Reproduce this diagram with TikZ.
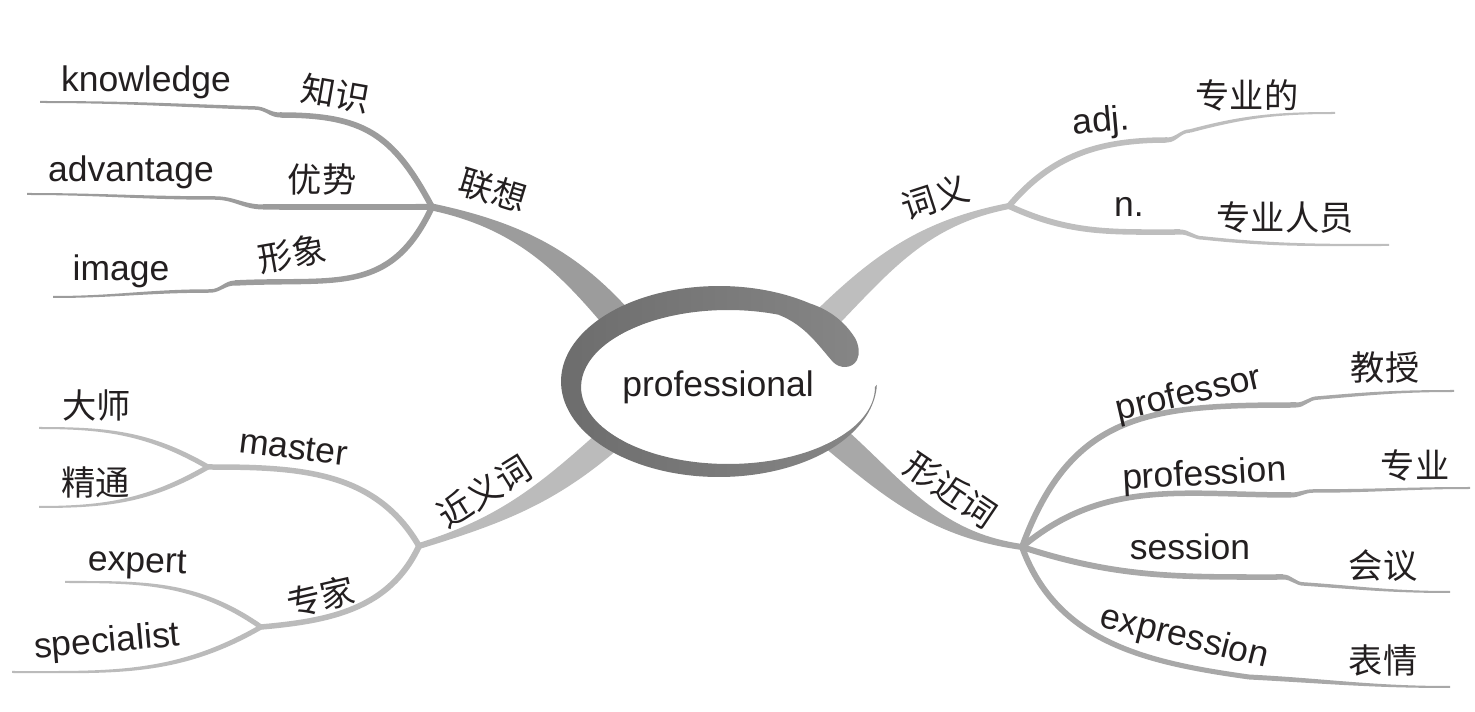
\documentclass[tikz,border=0pt]{standalone}
\usepackage{fontspec}
\setmainfont{Liberation Sans}
\newfontfamily\cjk{Noto Sans CJK SC}
\usetikzlibrary{calc}
\definecolor{ringL}{HTML}{6B6B6B}
\definecolor{ringR}{HTML}{878787}
\definecolor{cA}{HTML}{9C9C9C}
\definecolor{cB}{HTML}{BEBEBE}
\definecolor{cC}{HTML}{BBBBBB}
\definecolor{cD}{HTML}{A8A8A8}
\definecolor{txt}{HTML}{231F20}
% tapered branch: [opts] from, to, width0, width1, out, in, colour
\newcommand\br[8][]{%
  \fill[#8] ($(#2)+(#6+90:#4/2)$) to[out=#6,in=#7,#1] ($(#3)+(#7-90:#5/2)$)
    -- ($(#3)+(#7+90:#5/2)$) to[out=#7,in=#6,#1] ($(#2)+(#6-90:#4/2)$) -- cycle;}
\begin{document}
\begin{tikzpicture}[x=0.02cm,y=0.02cm,
  en/.style={font=\fontsize{20.2}{24}\selectfont, inner sep=0pt, text=txt},
  zh/.style={font=\cjk\fontsize{19.5}{22}\selectfont, inner sep=0pt, text=txt}]
\useasboundingbox (0,0) rectangle (1475,-712);
% ---------- coordinates ----------
\coordinate (F1) at (432,-207); \coordinate (R1) at (635,-340);
\coordinate (K1) at (280,-115); \coordinate (K2) at (255,-108); \coordinate (K3) at (40,-102);
\coordinate (A1) at (263,-207); \coordinate (A2) at (215,-198); \coordinate (A3) at (27,-194);
\coordinate (I1) at (235,-283); \coordinate (I2) at (210,-291); \coordinate (I3) at (53,-297);
\coordinate (F2) at (1009,-206); \coordinate (R2) at (812,-333);
\coordinate (Ad1) at (1167,-140); \coordinate (Ad2) at (1190,-131); \coordinate (Ad3) at (1335,-113);
\coordinate (N1) at (1180,-232); \coordinate (N2) at (1203,-238); \coordinate (N3) at (1389,-245);
\coordinate (F3) at (419,-546); \coordinate (R3) at (620,-430);
\coordinate (F4) at (208,-467); \coordinate (D1) at (39,-428); \coordinate (J1) at (39,-507);
\coordinate (F5) at (261,-627); \coordinate (E1) at (65,-582); \coordinate (S1) at (12,-672);
\coordinate (F6) at (1022,-547); \coordinate (R6) at (822,-427);
\coordinate (Pr1) at (1296,-405); \coordinate (Pr2) at (1318,-398); \coordinate (Pr3) at (1454,-391);
\coordinate (Pf1) at (1291,-495); \coordinate (Pf2) at (1313,-491); \coordinate (Pf3) at (1470,-488);
\coordinate (Se1) at (1283,-577); \coordinate (Se2) at (1304,-584); \coordinate (Se3) at (1450,-592);
\coordinate (Ex1) at (1249,-677); \coordinate (Ex2) at (1450,-687);
% ---------- branches ----------
% 联想
\br{F1}{R1}{7}{30}{-12}{129}{cA}
\br[looseness=1.2]{F1}{K1}{6}{5.5}{118}{0}{cA}
\br{K1}{K2}{5}{3.5}{180}{0}{cA}
\br{K2}{K3}{3.5}{2}{178}{0}{cA}
\br{F1}{A1}{6}{5.5}{180}{0}{cA}
\br{A1}{A2}{5}{3.5}{180}{0}{cA}
\br{A2}{A3}{3.5}{2}{180}{0}{cA}
\br[looseness=1.2]{F1}{I1}{6}{5.5}{-115}{3}{cA}
\br{I1}{I2}{5}{3.5}{180}{0}{cA}
\br{I2}{I3}{3.5}{2}{180}{0}{cA}
% 词义
\br{R2}{F2}{26}{6}{45}{-169}{cB}
\br{F2}{Ad1}{6}{5.5}{50}{180}{cB}
\br{Ad1}{Ad2}{5}{3.5}{0}{180}{cB}
\br{Ad2}{Ad3}{3.5}{2}{15}{180}{cB}
\br{F2}{N1}{6}{5.5}{-25}{180}{cB}
\br{N1}{N2}{5}{3.5}{0}{180}{cB}
\br{N2}{N3}{3.5}{2}{-6}{180}{cB}
% 近义词
\br{R3}{F3}{26}{6}{222}{17}{cC}
\br{F3}{F4}{6}{5.5}{120}{0}{cC}
\br{F4}{D1}{5}{2}{150}{0}{cC}
\br{F4}{J1}{5}{2}{-150}{0}{cC}
\br{F3}{F5}{6}{5.5}{-115}{5}{cC}
\br{F5}{E1}{5}{2}{145}{0}{cC}
\br{F5}{S1}{5}{2}{-150}{0}{cC}
% 形近词
\br{R6}{F6}{28}{6}{-40}{172}{cD}
\br[looseness=1.2]{F6}{Pr1}{6}{5.5}{70}{180}{cD}
\br{Pr1}{Pr2}{5}{3.5}{0}{180}{cD}
\br{Pr2}{Pr3}{3.5}{2}{5}{180}{cD}
\br{F6}{Pf1}{6}{5.5}{40}{180}{cD}
\br{Pf1}{Pf2}{5}{3.5}{0}{180}{cD}
\br{Pf2}{Pf3}{3.5}{2}{0}{180}{cD}
\br{F6}{Se1}{6}{5.5}{-18}{180}{cD}
\br{Se1}{Se2}{5}{3.5}{0}{180}{cD}
\br{Se2}{Se3}{3.5}{2}{-4}{180}{cD}
\br{F6}{Ex1}{6}{5}{-70}{172}{cD}
\br{Ex1}{Ex2}{5}{2}{-3}{180}{cD}
% ---------- central ring ----------
\fill[white] (728,-387) ellipse[x radius=2.94cm, y radius=1.54cm];
\shade[left color=ringL, right color=ringR]
  (809.6,-303.3) arc[start angle=55, end angle=358, x radius=3.16cm, y radius=1.91cm]
  -- (875,-387) arc[start angle=360, end angle=70, x radius=2.94cm, y radius=1.54cm]
  .. controls (805,-325) and (818,-345) .. (833,-362)
  .. controls (840,-369) and (852,-369) .. (857,-360)
  .. controls (860,-354) and (859,-345) .. (855,-338)
  .. controls (845,-322) and (830,-310) .. cycle;
\node[en, anchor=base] (tPro) at (718,-397) {professional};
% ---------- labels ----------
\node[zh, rotate=-17] (tLX) at (493,-190) {联想};
\node[zh, rotate=18] (tCY) at (935,-197) {词义};
\node[zh, rotate=32] (tJY) at (484,-491) {近义词};
\node[zh, rotate=-34] (tXJ) at (951,-490) {形近词};
\node[en, anchor=base] (tKn) at (146,-92) {knowledge};
\node[zh, rotate=-10] (tZS) at (336,-94) {知识};
\node[en, anchor=base] (tAd) at (131,-182) {advantage};
\node[zh] (tYS) at (322,-180) {优势};
\node[en, anchor=base] (tIm) at (121,-281) {image};
\node[zh, rotate=10] (tXX) at (292,-254) {形象};
\node[en, anchor=base, rotate=5] (tAdj) at (1102,-132) {adj.};
\node[zh] (tZYD) at (1247,-95) {专业的};
\node[en, anchor=base] (tN) at (1129,-217) {n.};
\node[zh] (tZYRY) at (1285,-218) {专业人员};
\node[en, anchor=base, rotate=-7] (tMa) at (292,-459) {master};
\node[zh] (tDS) at (97,-405) {大师};
\node[zh] (tJT) at (96,-482) {精通};
\node[zh, rotate=13] (tZJ) at (321,-597) {专家};
\node[en, anchor=base, rotate=-2] (tEx) at (137,-572) {expert};
\node[en, anchor=base, rotate=5] (tSp) at (108,-652) {specialist};
\node[en, anchor=base, rotate=13] (tPr) at (1191,-404) {professor};
\node[zh] (tJS) at (1385,-368) {教授};
\node[en, anchor=base, rotate=3] (tPf) at (1205,-485) {profession};
\node[zh] (tZY) at (1415,-465) {专业};
\node[en, anchor=base] (tSe) at (1190,-560) {session};
\node[zh] (tHY) at (1383,-566) {会议};
\node[en, anchor=base, rotate=-14] (tExp) at (1182,-647) {expression};
\node[zh] (tBQ) at (1383,-660) {表情};
\end{tikzpicture}
\end{document}
